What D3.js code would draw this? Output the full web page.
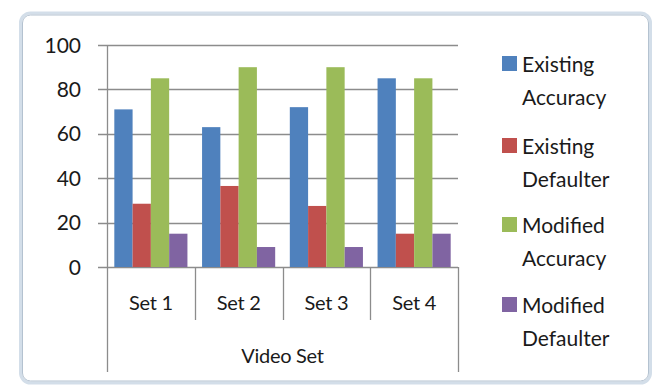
<!DOCTYPE html>
<html>
<head>
<meta charset="utf-8">
<script src="https://cdn.jsdelivr.net/npm/d3@7"></script>
<style>
  body { margin: 0; background: #fff; }
  text { font-family: Lato, "Open Sans", sans-serif; fill: #1a1a1a; }
</style>
</head>
<body>
<div id="chart"></div>
<script>
const width = 654, height = 389;

// Data
const categories = ["Set 1", "Set 2", "Set 3", "Set 4"];
const seriesNames = ["Existing Accuracy", "Existing Defaulter", "Modified Accuracy", "Modified Defaulter"];
const existingAccuracy = [71, 63, 72, 85];
const existingDefaulter = [28.5, 36.5, 27.5, 15];
const modifiedAccuracy = [85, 90, 90, 85];
const modifiedDefaulter = [15, 9, 9, 15];
const yTicks = [0, 20, 40, 60, 80, 100];
const axisTitle = "Video Set";

const colors = ["#4f81bd", "#c0504d", "#9bbb59", "#8064a2"];
const values = [existingAccuracy, existingDefaulter, modifiedAccuracy, modifiedDefaulter];

const svg = d3.select("#chart")
    .append("svg")
    .attr("width", width)
    .attr("height", height);

// Chart frame (rounded, light blue border)
svg.append("rect")
    .attr("x", 20.5).attr("y", 13)
    .attr("width", 630).attr("height", 370)
    .attr("rx", 10)
    .attr("fill", "none")
    .attr("stroke", "#d3dee9")
    .attr("stroke-width", 3);
svg.append("rect")
    .attr("x", 22.5).attr("y", 15)
    .attr("width", 626).attr("height", 366)
    .attr("rx", 8)
    .attr("fill", "#fff")
    .attr("stroke", "#b4c2d0")
    .attr("stroke-width", 1);

const plot = { left: 107, right: 458, top: 45, bottom: 267 };

const x = d3.scaleBand()
    .domain(categories)
    .range([plot.left, plot.right]);

const xInner = d3.scaleBand()
    .domain(d3.range(seriesNames.length))
    .range([0, x.bandwidth()])
    .paddingOuter(0.4);

const y = d3.scaleLinear()
    .domain([0, 100])
    .range([plot.bottom, plot.top]);

// Gridlines
svg.append("g")
    .selectAll("line")
    .data(yTicks)
    .join("line")
    .attr("x1", plot.left - 9)
    .attr("x2", plot.right)
    .attr("y1", d => Math.round(y(d)) + 0.5)
    .attr("y2", d => Math.round(y(d)) + 0.5)
    .attr("stroke", "#8c8c8c")
    .attr("stroke-width", 1.3);

// Y tick labels
svg.append("g")
    .selectAll("text")
    .data(yTicks)
    .join("text")
    .attr("x", 81)
    .attr("y", d => y(d))
    .attr("dy", "0.36em")
    .attr("text-anchor", "end")
    .attr("font-size", 21)
    .text(d => d);

// Bars
const groups = svg.append("g")
    .selectAll("g")
    .data(categories)
    .join("g")
    .attr("transform", d => `translate(${x(d)},0)`);

groups.selectAll("rect")
    .data((c, i) => values.map((s, k) => ({ k, v: s[i] })))
    .join("rect")
    .attr("x", d => xInner(d.k))
    .attr("width", xInner.bandwidth())
    .attr("y", d => y(d.v))
    .attr("height", d => y(0) - y(d.v))
    .attr("fill", d => colors[d.k]);

// Category axis: vertical divider lines
const dividers = categories.map(c => x(c)).concat([plot.right]);
svg.append("g")
    .selectAll("line")
    .data(dividers)
    .join("line")
    .attr("x1", d => Math.round(d) + 0.5)
    .attr("x2", d => Math.round(d) + 0.5)
    .attr("y1", plot.top)
    .attr("y2", (d, i) => (i === 0 || i === dividers.length - 1) ? 372 : 320)
    .attr("stroke", "#8c8c8c")
    .attr("stroke-width", 1.3)
    .filter((d, i) => i !== 0)
    .attr("y1", plot.bottom);

// Category labels
svg.append("g")
    .selectAll("text")
    .data(categories)
    .join("text")
    .attr("x", d => x(d) + x.bandwidth() / 2)
    .attr("y", 303)
    .attr("dy", "0.36em")
    .attr("text-anchor", "middle")
    .attr("font-size", 20)
    .attr("letter-spacing", -0.3)
    .text(d => d);

svg.append("text")
    .attr("x", (plot.left + plot.right) / 2)
    .attr("y", 356)
    .attr("dy", "0.36em")
    .attr("text-anchor", "middle")
    .attr("font-size", 20)
    .attr("letter-spacing", -0.3)
    .text(axisTitle);

// Legend
const legendY = [64, 146, 225, 305];
const legend = svg.append("g")
    .selectAll("g")
    .data(seriesNames)
    .join("g")
    .attr("transform", (d, i) => `translate(502,${legendY[i]})`);

legend.append("rect")
    .attr("x", 0).attr("y", -8)
    .attr("width", 15).attr("height", 15)
    .attr("fill", (d, i) => colors[i]);

legend.append("text")
    .attr("font-size", 21)
    .selectAll("tspan")
    .data(d => d.split(" "))
    .join("tspan")
    .attr("x", 20)
    .attr("y", (d, i) => i * 33)
    .attr("dy", "0.36em")
    .text(d => d);
</script>
</body>
</html>
